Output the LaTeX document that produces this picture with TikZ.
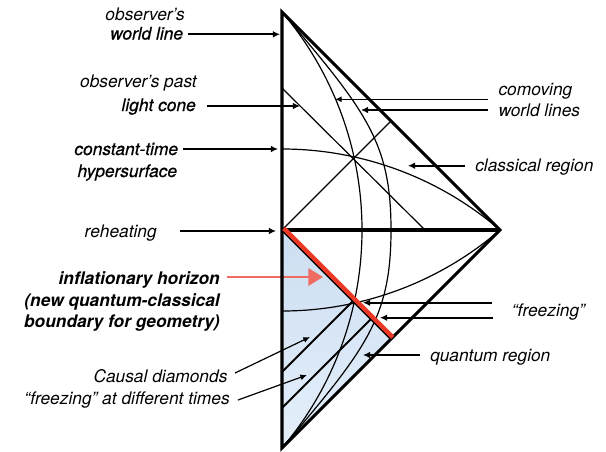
\documentclass[tikz,border=0pt]{standalone}
\usepackage{fontspec}
\setmainfont{TeX Gyre Heros}
\newfontfamily\medfam{TeX Gyre Heros}[FakeBold=0.6]
\usetikzlibrary{arrows.meta}
\definecolor{hred}{RGB}{236,58,38}
\definecolor{sred}{RGB}{238,108,98}
\definecolor{btop}{RGB}{204,222,241}
\definecolor{bbot}{RGB}{229,239,250}
\begin{document}
\begin{tikzpicture}[x=0.75pt,y=-0.75pt,
  lab/.style={font=\fontsize{13}{15}\selectfont\itshape, inner sep=0pt},
  mlab/.style={font=\fontsize{13}{15}\selectfont\medfam\itshape, inner sep=0pt},
  blab/.style={font=\fontsize{13}{15}\selectfont\bfseries\itshape, inner sep=0pt},
  arr/.style={line width=1.5pt, -{Latex[length=5.3pt,width=5pt]}},
  arrthin/.style={line width=0.9pt, -{Latex[length=5pt,width=4.5pt]}},
  thinl/.style={line width=0.9pt},
  dline/.style={line width=1.5pt},
  edgel/.style={line width=2.3pt, line join=miter}]
\useasboundingbox (0,0) rectangle (606,451);
% key points
\coordinate (T) at (282,12);
\coordinate (R) at (500,230);
\coordinate (B) at (282,448);
\coordinate (H) at (282,230);
\coordinate (E) at (391,339);
\coordinate (LC) at (282,88);
\coordinate (LCe) at (425,230);
\coordinate (D) at (391,121);
\coordinate (CT) at (282,149);
\coordinate (CB) at (282,311);
\coordinate (F1) at (353,301);
\coordinate (F2) at (371,319);
\coordinate (L1) at (282,372);
\coordinate (L2) at (282,408);
\coordinate (RH1) at (283.8,228.2);
\coordinate (RH2) at (392.8,337.2);
% quantum region
\shade[top color=btop, bottom color=bbot] (H) -- (E) -- (B) -- cycle;
% thin lines
\draw[thinl] (T) .. controls (333.7,72.9) and (362,150.1) .. (362,230)
  .. controls (362,309.9) and (333.7,387.1) .. (B);
\draw[thinl] (T) .. controls (366,111) and (391,142) .. (391,230)
  .. controls (391,318) and (366,349) .. (B);
\draw[thinl] (CT) .. controls (362,149) and (439.4,177.8) .. (R);
\draw[thinl] (CB) .. controls (362,311) and (439.4,282.2) .. (R);
\draw[thinl] (LC) -- (LCe);
\draw[thinl] (H) -- (D);
\draw[dline] (F1) -- (L1);
\draw[dline] (F2) -- (L2);
% red arrow
\coordinate (ra1) at (227,277);
\coordinate (ra2) at (323,277);
\draw[sred, line width=1.6pt, -{Triangle[length=11pt,width=13pt]}] (ra1) -- (ra2);
% outline
\draw[edgel] (T) -- (R) -- (B) -- cycle;
\draw[edgel] (H) -- (R);
\draw[line width=1.8pt] (H) -- (E);
\draw[hred, line width=3.3pt] (RH1) -- (RH2);
% left labels
\node[lab, anchor=base east] (obs) at (185,20) {observer’s};
\node[mlab, anchor=base east] (wl) at (183.3,39.5) {world line};
\node[lab, anchor=base east] (obsp) at (197,87.5) {observer’s past};
\node[mlab, anchor=base east] (lc) at (196,111) {light cone};
\node[mlab, anchor=base east] (ct) at (178.3,155) {constant-time};
\node[mlab, anchor=base east] (hs) at (177.3,177) {hypersurface};
\node[lab, anchor=base east] (reh) at (157,237) {reheating};
\node[blab, anchor=base east] (ih1) at (220,284) {inflationary horizon};
\node[blab, anchor=base east] (ih2) at (220,306) {(new quantum-classical};
\node[blab, anchor=base east] (ih3) at (220,327.3) {boundary for geometry)};
\node[lab, anchor=base east] (cd1) at (227.7,382.7) {Causal diamonds};
\node[lab, anchor=base east] (cd2) at (230,404) {“freezing” at different times};
% right labels
\node[lab, anchor=base west] (cm1) at (498.3,95) {comoving};
\node[lab, anchor=base west] (cm2) at (498.3,116) {world lines};
\node[lab, anchor=base west] (cl) at (475,171) {classical region};
\node[lab, anchor=base west] (fr) at (511.7,316) {“freezing”};
\node[lab, anchor=base west] (qr) at (430,361.7) {quantum region};
% arrows
\coordinate (a1s) at (188.3,34.3); \coordinate (a1e) at (280,34.3);
\coordinate (a2s) at (206.7,106);  \coordinate (a2e) at (300,106);
\coordinate (a3s) at (183,149);    \coordinate (a3e) at (278,149);
\coordinate (a4s) at (180,231);    \coordinate (a4e) at (276,231);
\coordinate (a5s) at (235,373);    \coordinate (a5e) at (310,337);
\coordinate (a6s) at (238,400);    \coordinate (a6e) at (307,375);
\coordinate (b1s) at (488,99.3);   \coordinate (b1e) at (335,99.3);
\coordinate (b2s) at (488,110);    \coordinate (b2e) at (361,110);
\coordinate (b3s) at (465,165.7);  \coordinate (b3e) at (408,165.7);
\coordinate (b4s) at (492,302.7);  \coordinate (b4e) at (363,302.7);
\coordinate (b5s) at (493,317.7);  \coordinate (b5e) at (380,317.7);
\coordinate (b6s) at (420,355);    \coordinate (b6e) at (363,355);
\draw[arr] (a1s) -- (a1e);
\draw[arr] (a2s) -- (a2e);
\draw[arr] (a3s) -- (a3e);
\draw[arr] (a4s) -- (a4e);
\draw[arrthin] (a5s) -- (a5e);
\draw[arrthin] (a6s) -- (a6e);
\draw[arrthin] (b1s) -- (b1e);
\draw[arr] (b2s) -- (b2e);
\draw[arr] (b3s) -- (b3e);
\draw[arr] (b4s) -- (b4e);
\draw[arr] (b5s) -- (b5e);
\draw[arr] (b6s) -- (b6e);
\end{tikzpicture}
\end{document}
